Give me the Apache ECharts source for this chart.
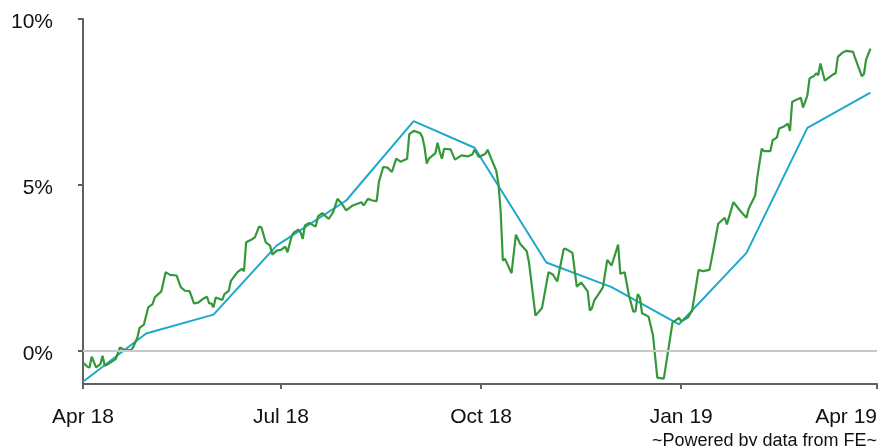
<!DOCTYPE html>
<html><head><meta charset="utf-8">
<script src="https://cdn.jsdelivr.net/npm/echarts@6/dist/echarts.min.js"></script>
<style>html,body{margin:0;padding:0;background:#fff}#c{width:880px;height:446px}</style>
</head><body><div id="c"></div>
<script>
const greenDates = [
'2018-04-01','2018-04-03','2018-04-04','2018-04-05','2018-04-07','2018-04-09','2018-04-10','2018-04-11','2018-04-13','2018-04-16',
'2018-04-18','2018-04-20','2018-04-23','2018-04-24','2018-04-26','2018-04-27','2018-04-29','2018-05-01','2018-05-03','2018-05-04',
'2018-05-07','2018-05-09','2018-05-11','2018-05-14','2018-05-16','2018-05-18','2018-05-20','2018-05-22','2018-05-24','2018-05-26',
'2018-05-28','2018-05-29','2018-05-30','2018-05-31','2018-06-01','2018-06-04','2018-06-05','2018-06-07','2018-06-08','2018-06-11',
'2018-06-13','2018-06-14','2018-06-15','2018-06-18','2018-06-19','2018-06-21','2018-06-22','2018-06-24','2018-06-26','2018-06-27',
'2018-06-29','2018-07-01','2018-07-03','2018-07-04','2018-07-06','2018-07-07','2018-07-09','2018-07-10','2018-07-11','2018-07-12',
'2018-07-14','2018-07-16','2018-07-17','2018-07-18','2018-07-20','2018-07-22','2018-07-23','2018-07-25','2018-07-27','2018-07-29',
'2018-07-31','2018-08-03','2018-08-07','2018-08-08','2018-08-10','2018-08-12','2018-08-14','2018-08-15','2018-08-17','2018-08-19',
'2018-08-21','2018-08-23','2018-08-25','2018-08-28','2018-08-29','2018-08-31','2018-09-03','2018-09-04','2018-09-05','2018-09-06',
'2018-09-07','2018-09-10','2018-09-11','2018-09-12','2018-09-13','2018-09-14','2018-09-17','2018-09-19','2018-09-22','2018-09-25',
'2018-09-27','2018-09-28','2018-09-30','2018-10-03','2018-10-04','2018-10-06','2018-10-08','2018-10-09','2018-10-10','2018-10-11',
'2018-10-12','2018-10-15','2018-10-17','2018-10-19','2018-10-22','2018-10-23','2018-10-26','2018-10-29','2018-11-01','2018-11-03',
'2018-11-05','2018-11-08','2018-11-09','2018-11-12','2018-11-14','2018-11-16','2018-11-19','2018-11-20','2018-11-21','2018-11-22',
'2018-11-24','2018-11-26','2018-11-28','2018-11-30','2018-12-03','2018-12-04','2018-12-06','2018-12-08','2018-12-10','2018-12-11',
'2018-12-12','2018-12-13','2018-12-14','2018-12-17','2018-12-19','2018-12-21','2018-12-24','2018-12-28','2018-12-31','2019-01-01',
'2019-01-04','2019-01-06','2019-01-09','2019-01-11','2019-01-14','2019-01-16','2019-01-18','2019-01-21','2019-01-22','2019-01-25',
'2019-01-28','2019-01-31','2019-02-01','2019-02-04','2019-02-05','2019-02-07','2019-02-08','2019-02-11','2019-02-12','2019-02-14',
'2019-02-15','2019-02-17','2019-02-19','2019-02-20','2019-02-21','2019-02-23','2019-02-25','2019-02-26','2019-02-28','2019-03-01',
'2019-03-03','2019-03-04','2019-03-05','2019-03-06','2019-03-08','2019-03-10','2019-03-12','2019-03-13','2019-03-14','2019-03-16',
'2019-03-18','2019-03-21','2019-03-22','2019-03-24','2019-03-25','2019-03-26','2019-03-27','2019-03-29'
];
const greenValues = [
-0.35,-0.48,-0.50,-0.18,-0.50,-0.40,-0.15,-0.45,-0.38,-0.25,
0.10,0.03,0.02,0.10,0.40,0.69,0.79,1.31,1.41,1.61,
1.79,2.37,2.29,2.27,1.91,1.81,1.80,1.43,1.45,1.56,
1.63,1.43,1.43,1.31,1.61,1.53,1.71,1.81,2.11,2.37,
2.47,2.40,3.27,3.37,3.42,3.75,3.72,3.27,3.17,2.90,
3.02,3.04,3.14,2.97,3.47,3.57,3.65,3.57,3.37,3.78,
3.85,3.78,3.75,4.05,4.15,4.03,3.98,4.18,4.58,4.43,
4.23,4.38,4.48,4.38,4.58,4.53,4.51,5.08,5.54,5.52,
5.39,5.79,5.70,5.79,6.53,6.63,6.56,6.44,6.14,5.64,
5.79,5.96,6.27,5.99,5.79,6.09,6.07,5.76,5.89,5.86,
5.92,6.06,5.84,5.94,6.06,5.74,5.42,5.02,4.20,2.72,
2.77,2.34,3.50,3.22,3.00,2.67,1.06,1.29,2.37,2.30,
2.09,3.07,3.07,2.95,1.93,2.06,1.79,1.21,1.29,1.51,
1.71,1.91,2.74,2.57,3.20,2.32,2.37,1.66,1.18,1.19,
1.71,1.61,1.13,1.03,0.48,-0.81,-0.84,0.85,0.99,0.89,
1.00,1.21,2.44,2.40,2.44,3.12,3.83,4.01,3.81,4.48,
4.23,4.01,4.28,4.68,5.24,6.09,6.02,6.02,6.34,6.43,
6.70,6.75,6.85,6.63,7.50,7.57,7.63,7.33,7.70,8.21,
8.28,8.36,8.31,8.66,8.14,8.24,8.34,8.36,8.86,8.98,
9.04,9.01,8.81,8.46,8.28,8.34,8.78,9.11
];
const blueDates = ['2018-04-01','2018-04-30','2018-05-31','2018-06-29','2018-07-31','2018-08-31','2018-09-28','2018-10-31','2018-11-30','2018-12-31','2019-01-31','2019-02-28','2019-03-29'];
const blueValues = [-0.93,0.52,1.09,3.17,4.53,6.92,6.12,2.66,1.92,0.80,2.95,6.72,7.78];
const xTickDates = ['2018-04-01','2018-07-01','2018-10-01','2019-01-01','2019-04-01'];
const yTickValues = [0,5,10];
const monthNames = ['Jan','Feb','Mar','Apr','May','Jun','Jul','Aug','Sep','Oct','Nov','Dec'];
const footerText = '~Powered by data from FE~';

function ts(s){ return new Date(s + 'T00:00:00').getTime(); }
const greenData = greenDates.map((d,i)=>[ts(d), greenValues[i]]);
const blueData = blueDates.map((d,i)=>[ts(d), blueValues[i]]);
const xTicks = xTickDates.map(ts);
const FONT = '"Liberation Sans", Arial, sans-serif';

const chart = echarts.init(document.getElementById('c'), null, {renderer:'canvas'});
chart.setOption({
  animation:false,
  backgroundColor:'#fff',
  grid:{left:83, right:1, top:19, bottom:62, containLabel:false},
  xAxis:{
    type:'value', min:xTicks[0], max:xTicks[xTicks.length-1],
    axisLine:{show:true, onZero:false, lineStyle:{color:'#606060', width:2}},
    axisTick:{show:true, length:5, customValues:xTicks, lineStyle:{color:'#606060', width:2}},
    splitLine:{show:false},
    axisLabel:{
      customValues:xTicks, margin:23, color:'#111', fontSize:21, fontFamily:FONT,
      alignMaxLabel:'right',
      formatter:function(v){ const d=new Date(v); return monthNames[d.getMonth()]+' '+String(d.getFullYear()).slice(2); }
    }
  },
  yAxis:{
    type:'value', min:-1, max:10,
    axisLine:{show:true, onZero:false, lineStyle:{color:'#606060', width:2}},
    axisTick:{show:true, length:5, customValues:yTickValues, lineStyle:{color:'#606060', width:2}},
    splitLine:{show:false},
    axisLabel:{customValues:yTickValues, margin:30, color:'#111', fontSize:21, fontFamily:FONT,
      formatter:function(v){ return '{p|' + v + '%}'; },
      rich:{p:{color:'#111', fontSize:21, fontFamily:FONT, padding:[7,0,0,0]}}}
  },
  series:[
    {type:'line', data:blueData, showSymbol:false, symbol:'none', z:2,
     lineStyle:{color:'#1ea8cc', width:2},
     markLine:{silent:true, symbol:'none', label:{show:false}, animation:false,
       data:[{yAxis:0}], lineStyle:{color:'#c8c8c8', type:'solid', width:2}}},
    {type:'line', data:greenData, showSymbol:false, symbol:'none', z:3,
     lineStyle:{color:'#35983a', width:2.2}}
  ],
  graphic:[{type:'text', x:877, y:441.5, z:10,
    style:{text:footerText, fill:'#111', font:'18px ' + FONT, fontSize:18, fontFamily:FONT,
      align:'right', verticalAlign:'middle', textAlign:'right', textVerticalAlign:'middle'}}]
});
</script></body></html>
